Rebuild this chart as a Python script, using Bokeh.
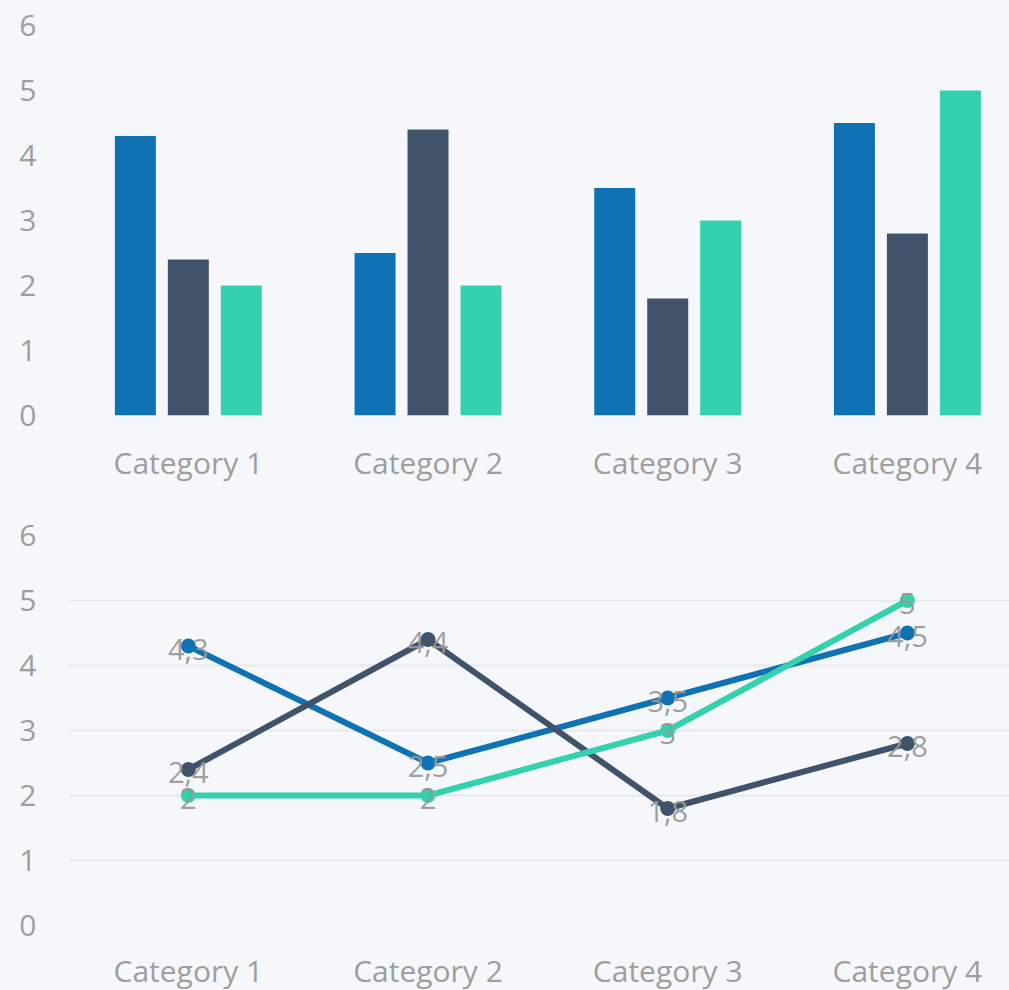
from bokeh.plotting import figure
from bokeh.layouts import column
from bokeh.models import Range1d, FixedTicker
from bokeh.embed import file_html
from bokeh.resources import INLINE
from bokeh.core.properties import value

categories = ["Category 1", "Category 2", "Category 3", "Category 4"]
series_1 = [4.3, 2.5, 3.5, 4.5]
series_2 = [2.4, 4.4, 1.8, 2.8]
series_3 = [2, 2, 3, 5]
y_ticks = [0, 1, 2, 3, 4, 5, 6]

colors = ["#0e72b5", "#40536b", "#33d1ad"]
BG = "#f5f7fb"
TXT = "#9e9e9e"
GRID = "#e7e8eb"
FONT = "Open Sans"

xs = [i + 0.5 for i in range(len(categories))]
series = [series_1, series_2, series_3]


def fmt(v):
    s = ("%g" % v)
    return s.replace(".", ",")


def make_fig(top_border, bottom_border, x_standoff):
    p = figure(frame_width=941, frame_height=390,
               x_range=Range1d(0, 3.926), y_range=Range1d(0, 6),
               output_backend="svg", toolbar_location=None,
               min_border_left=68, min_border_right=0,
               min_border_top=top_border, min_border_bottom=bottom_border,
               background_fill_color=BG, border_fill_color=BG,
               outline_line_color=None)
    p.xaxis.ticker = FixedTicker(ticks=xs)
    p.xaxis.major_label_overrides = {x: c for x, c in zip(xs, categories)}
    p.yaxis.ticker = FixedTicker(ticks=y_ticks)
    for ax in (p.xaxis[0], p.yaxis[0]):
        ax.axis_line_color = None
        ax.major_tick_line_color = None
        ax.minor_tick_line_color = None
        ax.major_tick_out = 0
        ax.major_tick_in = 0
        ax.major_label_text_font = FONT
        ax.major_label_text_font_size = "30px"
        ax.major_label_text_color = TXT
    p.xaxis.major_label_standoff = x_standoff
    p.yaxis.major_label_standoff = 32
    p.xgrid.grid_line_color = None
    p.ygrid.grid_line_color = GRID
    p.ygrid.grid_line_width = 2
    return p


# ---- top: grouped bars ----
top = make_fig(25, 74, 26)
top.ygrid.ticker = FixedTicker(ticks=[0])
offsets = [-0.221, 0.0, 0.221]
for vals, off, col in zip(series, offsets, colors):
    top.vbar(x=[x + off for x in xs], top=vals, bottom=0, width=0.171,
             fill_color=col, line_color=None)

# ---- bottom: lines ----
bot = make_fig(46, 40, 24)
bot.ygrid.ticker = FixedTicker(ticks=y_ticks)
for vals, col in zip(series, colors):
    bot.line(xs, vals, line_color=col, line_width=6)
    bot.scatter(xs, vals, size=15, fill_color=col, line_color=None)
for vals in series:
    bot.text(xs, vals, text=[fmt(v) for v in vals],
             text_font=value(FONT), text_font_size="29px",
             text_color="#999999", text_alpha=0.95,
             text_align="center", text_baseline="middle", y_offset=3)

layout = column(top, bot, spacing=0, background=BG)
open("out.html", "w").write(file_html(layout, INLINE))
